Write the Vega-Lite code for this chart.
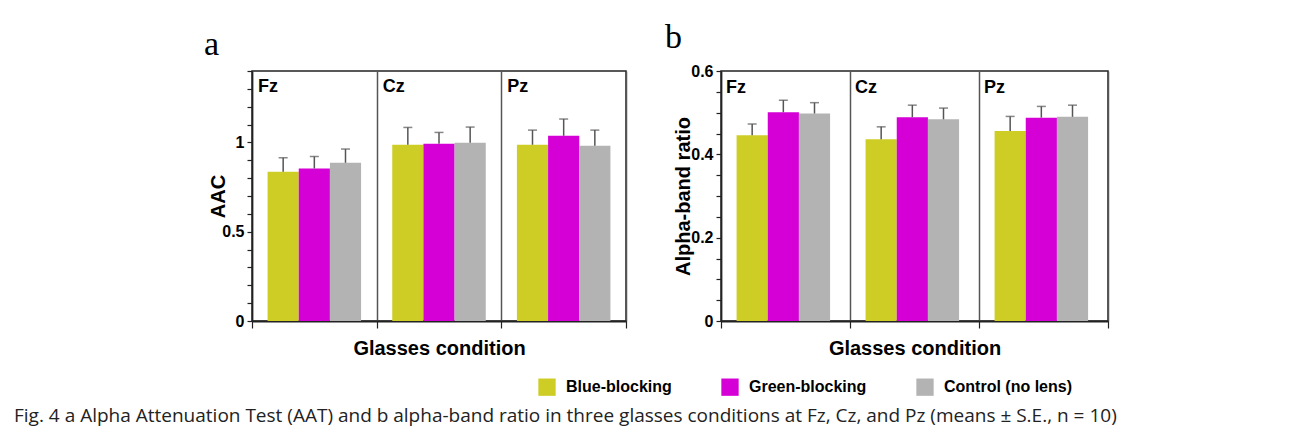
{
  "$schema": "https://vega.github.io/schema/vega-lite/v6.json",
  "padding": {"left": 14, "top": 20, "right": 5, "bottom": 5},
  "background": "white",
  "datasets": {
    "a": [
      {"site": "Fz", "cond": "Blue-blocking", "mean": 0.836, "upper": 0.914},
      {"site": "Fz", "cond": "Green-blocking", "mean": 0.854, "upper": 0.921},
      {"site": "Fz", "cond": "Control (no lens)", "mean": 0.886, "upper": 0.963},
      {"site": "Cz", "cond": "Blue-blocking", "mean": 0.987, "upper": 1.084},
      {"site": "Cz", "cond": "Green-blocking", "mean": 0.993, "upper": 1.056},
      {"site": "Cz", "cond": "Control (no lens)", "mean": 0.998, "upper": 1.086},
      {"site": "Pz", "cond": "Blue-blocking", "mean": 0.987, "upper": 1.069},
      {"site": "Pz", "cond": "Green-blocking", "mean": 1.037, "upper": 1.131},
      {"site": "Pz", "cond": "Control (no lens)", "mean": 0.981, "upper": 1.069}
    ],
    "b": [
      {"site": "Fz", "cond": "Blue-blocking", "mean": 0.446, "upper": 0.473},
      {"site": "Fz", "cond": "Green-blocking", "mean": 0.501, "upper": 0.530},
      {"site": "Fz", "cond": "Control (no lens)", "mean": 0.498, "upper": 0.524},
      {"site": "Cz", "cond": "Blue-blocking", "mean": 0.436, "upper": 0.466},
      {"site": "Cz", "cond": "Green-blocking", "mean": 0.489, "upper": 0.518},
      {"site": "Cz", "cond": "Control (no lens)", "mean": 0.484, "upper": 0.511},
      {"site": "Pz", "cond": "Blue-blocking", "mean": 0.456, "upper": 0.491},
      {"site": "Pz", "cond": "Green-blocking", "mean": 0.488, "upper": 0.515},
      {"site": "Pz", "cond": "Control (no lens)", "mean": 0.490, "upper": 0.518}
    ],
    "sites": [{"site": "Fz"}, {"site": "Cz"}, {"site": "Pz"}]
  },
  "title": {
    "text": "Fig. 4 a Alpha Attenuation Test (AAT) and b alpha-band ratio in three glasses conditions at Fz, Cz, and Pz (means ± S.E., n = 10)",
    "orient": "bottom",
    "anchor": "start",
    "frame": "group",
    "dx": -238,
    "offset": 11,
    "font": "Open Sans",
    "fontSize": 19,
    "fontWeight": "normal",
    "color": "#222"
  },
  "spacing": 36,
  "hconcat": [
    {
      "width": 374,
      "height": 250,
      "title": {"text": "a", "anchor": "start", "frame": "group", "dx": -48, "font": "Liberation Serif", "fontSize": 34, "fontWeight": "normal", "color": "#000", "offset": 8},
      "data": {"name": "a"},
      "encoding": {
        "x": {"field": "site", "type": "nominal", "sort": ["Fz", "Cz", "Pz"], "scale": {"paddingInner": 0, "paddingOuter": 0}, "title": "Glasses condition"}
      },
      "layer": [
        {
          "mark": {"type": "bar"},
          "encoding": {
            "xOffset": {"field": "cond", "type": "nominal", "sort": ["Blue-blocking", "Green-blocking", "Control (no lens)"], "scale": {"paddingInner": 0, "paddingOuter": 0.5}},
            "y": {"field": "mean", "type": "quantitative", "scale": {"domain": [0, 1.4]}, "title": "AAC",
              "axis": {"values": [0, 0.1, 0.2, 0.3, 0.4, 0.5, 0.6, 0.7, 0.8, 0.9, 1, 1.1, 1.2, 1.3, 1.4], "titlePadding": -7,
                "labelExpr": "abs(datum.value*2 - round(datum.value*2)) < 0.001 ? format(datum.value, '~g') : ''"}},
            "color": {"field": "cond", "type": "nominal",
              "scale": {"domain": ["Blue-blocking", "Green-blocking", "Control (no lens)"], "range": ["#CDCD25", "#D500D5", "#B3B3B3"]},
              "legend": {"orient": "none", "legendX": 286, "legendY": 307, "direction": "horizontal", "title": null}}
          }
        },
        {
          "mark": {"type": "rule", "color": "#555", "strokeWidth": 1.5},
          "encoding": {
            "xOffset": {"field": "cond", "type": "nominal", "sort": ["Blue-blocking", "Green-blocking", "Control (no lens)"]},
            "y": {"field": "mean", "type": "quantitative", "title": "AAC",
              "axis": {"values": [0, 0.1, 0.2, 0.3, 0.4, 0.5, 0.6, 0.7, 0.8, 0.9, 1, 1.1, 1.2, 1.3, 1.4], "titlePadding": -7,
                "labelExpr": "abs(datum.value*2 - round(datum.value*2)) < 0.001 ? format(datum.value, '~g') : ''"}},
            "y2": {"field": "upper"}
          }
        },
        {
          "mark": {"type": "tick", "color": "#555", "thickness": 1.5, "size": 9, "orient": "horizontal"},
          "encoding": {
            "xOffset": {"field": "cond", "type": "nominal", "sort": ["Blue-blocking", "Green-blocking", "Control (no lens)"]},
            "y": {"field": "upper", "type": "quantitative", "title": "AAC",
              "axis": {"values": [0, 0.1, 0.2, 0.3, 0.4, 0.5, 0.6, 0.7, 0.8, 0.9, 1, 1.1, 1.2, 1.3, 1.4], "titlePadding": -7,
                "labelExpr": "abs(datum.value*2 - round(datum.value*2)) < 0.001 ? format(datum.value, '~g') : ''"}}
          }
        },
        {
          "data": {"name": "sites"},
          "mark": {"type": "text", "align": "left", "baseline": "top", "dx": 6, "dy": 7, "fontSize": 18, "fontWeight": "bold", "color": "#000"},
          "encoding": {
            "x": {"field": "site", "type": "nominal", "sort": ["Fz", "Cz", "Pz"], "bandPosition": 0, "title": "Glasses condition"},
            "y": {"datum": 1.4, "type": "quantitative", "title": "AAC",
              "axis": {"values": [0, 0.1, 0.2, 0.3, 0.4, 0.5, 0.6, 0.7, 0.8, 0.9, 1, 1.1, 1.2, 1.3, 1.4], "titlePadding": -7,
                "labelExpr": "abs(datum.value*2 - round(datum.value*2)) < 0.001 ? format(datum.value, '~g') : ''"}},
            "text": {"field": "site"}
          }
        }
      ]
    },
    {
      "width": 387,
      "height": 250,
      "title": {"text": "b", "anchor": "start", "frame": "group", "dx": -56, "font": "Liberation Serif", "fontSize": 34, "fontWeight": "normal", "color": "#000", "offset": 8},
      "data": {"name": "b"},
      "encoding": {
        "x": {"field": "site", "type": "nominal", "sort": ["Fz", "Cz", "Pz"], "scale": {"paddingInner": 0, "paddingOuter": 0}, "title": "Glasses condition"}
      },
      "layer": [
        {
          "mark": {"type": "bar"},
          "encoding": {
            "xOffset": {"field": "cond", "type": "nominal", "sort": ["Blue-blocking", "Green-blocking", "Control (no lens)"], "scale": {"paddingInner": 0, "paddingOuter": 0.45}},
            "y": {"field": "mean", "type": "quantitative", "scale": {"domain": [0, 0.6]}, "title": "Alpha-band ratio",
              "axis": {"values": [0, 0.05, 0.1, 0.15, 0.2, 0.25, 0.3, 0.35, 0.4, 0.45, 0.5, 0.55, 0.6], "titlePadding": -3,
                "labelExpr": "abs(datum.value*5 - round(datum.value*5)) < 0.001 ? format(datum.value, '~g') : ''"}},
            "color": {"field": "cond", "type": "nominal",
              "scale": {"domain": ["Blue-blocking", "Green-blocking", "Control (no lens)"], "range": ["#CDCD25", "#D500D5", "#B3B3B3"]},
              "legend": {"orient": "none", "legendX": 286, "legendY": 307, "direction": "horizontal", "title": null}}
          }
        },
        {
          "mark": {"type": "rule", "color": "#555", "strokeWidth": 1.5},
          "encoding": {
            "xOffset": {"field": "cond", "type": "nominal", "sort": ["Blue-blocking", "Green-blocking", "Control (no lens)"]},
            "y": {"field": "mean", "type": "quantitative", "title": "Alpha-band ratio",
              "axis": {"values": [0, 0.05, 0.1, 0.15, 0.2, 0.25, 0.3, 0.35, 0.4, 0.45, 0.5, 0.55, 0.6], "titlePadding": -3,
                "labelExpr": "abs(datum.value*5 - round(datum.value*5)) < 0.001 ? format(datum.value, '~g') : ''"}},
            "y2": {"field": "upper"}
          }
        },
        {
          "mark": {"type": "tick", "color": "#555", "thickness": 1.5, "size": 9, "orient": "horizontal"},
          "encoding": {
            "xOffset": {"field": "cond", "type": "nominal", "sort": ["Blue-blocking", "Green-blocking", "Control (no lens)"]},
            "y": {"field": "upper", "type": "quantitative", "title": "Alpha-band ratio",
              "axis": {"values": [0, 0.05, 0.1, 0.15, 0.2, 0.25, 0.3, 0.35, 0.4, 0.45, 0.5, 0.55, 0.6], "titlePadding": -3,
                "labelExpr": "abs(datum.value*5 - round(datum.value*5)) < 0.001 ? format(datum.value, '~g') : ''"}}
          }
        },
        {
          "data": {"name": "sites"},
          "mark": {"type": "text", "align": "left", "baseline": "top", "dx": 5, "dy": 8, "fontSize": 18, "fontWeight": "bold", "color": "#000"},
          "encoding": {
            "x": {"field": "site", "type": "nominal", "sort": ["Fz", "Cz", "Pz"], "bandPosition": 0, "title": "Glasses condition"},
            "y": {"datum": 0.6, "type": "quantitative", "title": "Alpha-band ratio",
              "axis": {"values": [0, 0.05, 0.1, 0.15, 0.2, 0.25, 0.3, 0.35, 0.4, 0.45, 0.5, 0.55, 0.6], "titlePadding": -3,
                "labelExpr": "abs(datum.value*5 - round(datum.value*5)) < 0.001 ? format(datum.value, '~g') : ''"}},
            "text": {"field": "site"}
          }
        }
      ]
    }
  ],
  "resolve": {"scale": {"color": "shared"}},
  "config": {
    "font": "Liberation Sans",
    "view": {"stroke": "#222", "strokeWidth": 1.5},
    "axis": {
      "labelFont": "Liberation Sans", "labelFontWeight": "bold", "labelFontSize": 16, "labelColor": "#000",
      "titleFont": "Liberation Sans", "titleFontWeight": "bold", "titleFontSize": 20, "titleColor": "#000",
      "domainColor": "#222", "domainWidth": 1.5, "tickColor": "#222", "tickWidth": 1.2
    },
    "axisY": {"tickSize": 5, "labelPadding": 3, "grid": false, "labelFontSize": 16},
    "axisX": {"labels": false, "tickBand": "extent", "tickSize": 7, "grid": true, "gridColor": "#555", "gridWidth": 1.5, "domainWidth": 2, "titlePadding": 10},
    "legend": {
      "symbolType": "square", "symbolSize": 300, "symbolStrokeWidth": 0, "symbolOpacity": 1,
      "labelFont": "Liberation Sans", "labelFontWeight": "bold", "labelFontSize": 16, "labelColor": "#000",
      "labelOffset": 10, "columnPadding": 49, "labelLimit": 300
    }
  }
}
